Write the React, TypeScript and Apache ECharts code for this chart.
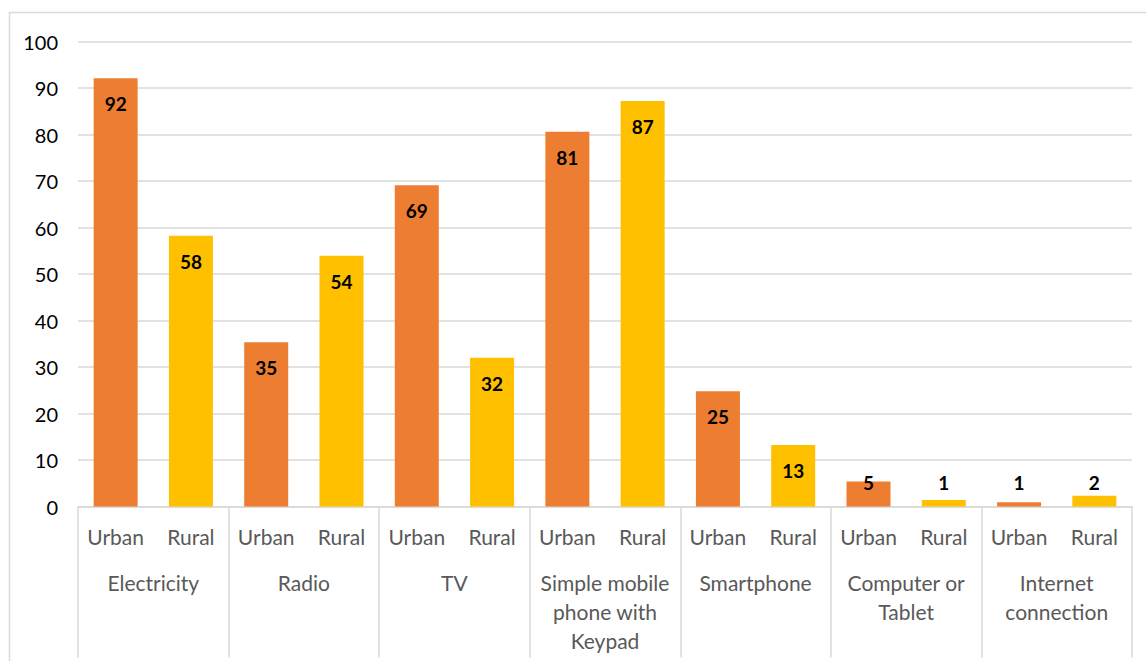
import React, { useEffect, useRef } from "react";
import * as echarts from "echarts";

const groups = [
  "Electricity",
  "Radio",
  "TV",
  "Simple mobile\nphone with\nKeypad",
  "Smartphone",
  "Computer or\nTablet",
  "Internet\nconnection",
];
const subCategories = ["Urban", "Rural"];
const urbanValues = [92.1, 35.3, 69.1, 80.6, 24.8, 5.4, 0.9];
const ruralValues = [58.2, 53.9, 32.0, 87.2, 13.2, 1.4, 2.3];
const yTicks = { min: 0, max: 100, interval: 10 };

const URBAN_COLOR = "#ED7D31";
const RURAL_COLOR = "#FFC000";
const GRID_COLOR = "#D9D9D9";
const TEXT_GRAY = "#595959";
const FONT = "Lato, 'Open Sans', sans-serif";

export default function App() {
  const ref = useRef<HTMLDivElement>(null);

  useEffect(() => {
    document.body.style.margin = "0";
    if (!ref.current) return;
    const chart = echarts.init(ref.current, null, { renderer: "svg" });

    const cats: string[] = [];
    const data: any[] = [];
    groups.forEach((g, i) => {
      [urbanValues[i], ruralValues[i]].forEach((v, j) => {
        cats.push(subCategories[j]);
        const small = v < 10;
        data.push({
          value: v,
          itemStyle: { color: j === 0 ? URBAN_COLOR : RURAL_COLOR },
          label: small
            ? { position: "insideBottom", distance: 15 }
            : { position: "insideTop", distance: 16 },
        });
      });
    });

    chart.setOption({
      animation: false,
      textStyle: { fontFamily: FONT },
      graphic: [
        {
          type: "rect",
          shape: { x: 9.5, y: 12.5, width: 1300, height: 800 },
          style: { fill: "none", stroke: GRID_COLOR, lineWidth: 1.5 },
          silent: true,
          z: -10,
        },
      ],
      grid: { left: 78, right: 14, top: 41.5, bottom: 154.5, containLabel: false },
      xAxis: [
        {
          type: "category",
          data: cats,
          position: "bottom",
          axisLine: { show: true, lineStyle: { color: GRID_COLOR, width: 1.5 } },
          axisTick: { show: false },
          axisLabel: {
            interval: 0,
            color: TEXT_GRAY,
            fontSize: 21,
            fontFamily: FONT,
            margin: 15,
            lineHeight: 29,
          },
        },
        {
          type: "category",
          data: groups,
          position: "bottom",
          axisLine: { show: false },
          axisTick: {
            show: true,
            interval: 0,
            length: 151,
            lineStyle: { color: GRID_COLOR, width: 1.5 },
          },
          axisLabel: {
            interval: 0,
            color: TEXT_GRAY,
            fontSize: 21,
            fontFamily: FONT,
            margin: 61,
            lineHeight: 29,
          },
        },
      ],
      yAxis: {
        type: "value",
        min: yTicks.min,
        max: yTicks.max,
        interval: yTicks.interval,
        axisLine: { show: false },
        axisTick: { show: false },
        splitLine: { lineStyle: { color: GRID_COLOR, width: 1.5 } },
        axisLabel: {
          color: "#000",
          fontSize: 20,
          fontFamily: FONT,
          margin: 20,
        },
      },
      series: [
        {
          type: "bar",
          xAxisIndex: 0,
          data,
          barWidth: 44,
          label: {
            show: true,
            color: "#000",
            fontWeight: "bold",
            fontSize: 19,
            fontFamily: FONT,
            formatter: (p: any) => String(Math.round(p.value)),
          },
        },
      ],
    });

    return () => chart.dispose();
  }, []);

  return <div ref={ref} style={{ width: 1146, height: 661 }} />;
}
